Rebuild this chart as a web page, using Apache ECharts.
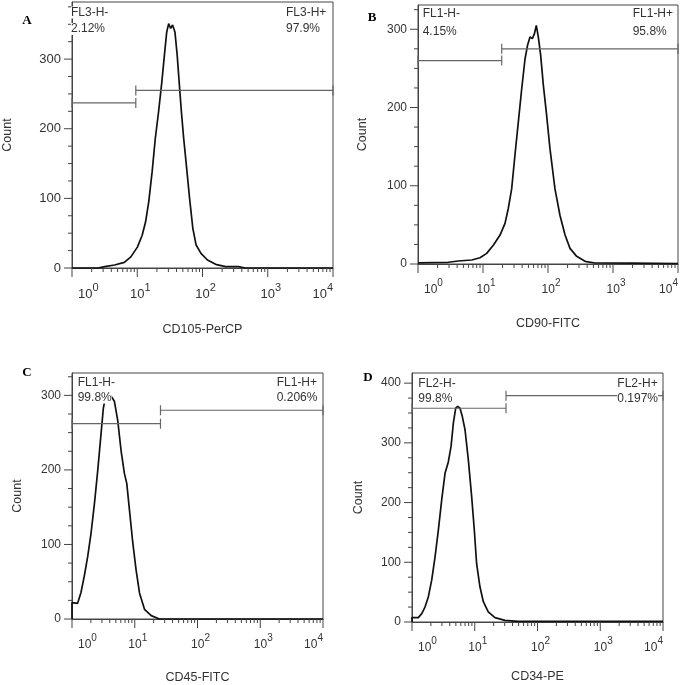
<!DOCTYPE html>
<html><head><meta charset="utf-8">
<script src="https://cdn.jsdelivr.net/npm/echarts@6/dist/echarts.min.js"></script>
<style>html,body{margin:0;padding:0;background:#fff}#c{width:685px;height:685px}</style>
</head><body><div id="c"></div>
<script>
// ---------- DATA ----------
const aX = [1, 2.5, 3.18, 4.49, 6.34, 7.98, 10.05, 11.9, 13.4, 15.0, 16.9, 18.9, 21.2, 23.8, 26.1, 28.3, 30.3, 32.5, 34.8, 37.8, 40.9, 43.9, 47.5, 51.5, 56.5, 63.4, 71.1, 79.8, 94.8, 119, 159, 225, 356, 449, 10000];
const aCount = [0, 0, 1.9, 4.3, 8.1, 16, 30, 47, 66, 95, 138, 186, 224, 267, 306, 339, 351, 344, 349, 339, 306, 267, 224, 186, 148, 100, 57, 33, 21, 11.5, 5.3, 1.9, 1.9, 0, 0];

const bX = [1, 2.92, 4.17, 6.70, 8.99, 11.4, 14.4, 18.3, 21.8, 24.5, 27.6, 31.0, 35.0, 39.4, 44.3, 48.6, 52.8, 57.4, 61.7, 66.1, 71.0, 77.1, 84.7, 95.3, 107, 128, 153, 183, 218, 276, 371, 525, 2000, 10000];
const bCount = [1.5, 2.2, 3.8, 5.1, 8, 13.6, 24, 37, 52, 71, 96, 139, 182, 224, 262, 280, 290, 288, 294, 305, 290, 267, 229, 190, 148, 96, 62, 37, 20, 9.8, 3.4, 1.3, 1, 0.5];

const cX = [1, 1, 1.23, 1.39, 1.57, 1.78, 2.01, 2.28, 2.57, 2.90, 3.16, 3.40, 3.98, 4.74, 5.36, 6.05, 6.85, 7.46, 8.24, 9.31, 10.5, 11.9, 14.3, 18.3, 24.8, 10000];
const cCount = [0, 22, 21, 35.5, 57.6, 84, 115, 155, 199, 248, 283, 297, 302, 292, 266, 226, 195, 182, 146, 102, 66, 35, 13, 4.5, 0, 0];

const dX = [1, 1, 1.26, 1.43, 1.61, 1.82, 2.06, 2.33, 2.63, 2.97, 3.36, 3.79, 4.19, 4.56, 4.97, 5.35, 5.82, 6.34, 7.0, 7.91, 8.93, 9.84, 10.7, 12.1, 13.7, 16.4, 21.0, 30.3, 49.4, 10000];
const dCount = [0, 7.4, 7.4, 14, 25, 42, 70, 109, 154, 204, 249, 268, 294, 333, 358, 361, 358, 344, 322, 271, 210, 154, 98, 59, 34, 17, 7.4, 2.8, 1, 1];

// gates: [fromX, toX, count]
const gatesA = [[1, 9.5, 237], [9.5, 10000, 255]];
const gatesB = [[1, 19.4, 260], [19.4, 10000, 275]];
const gatesC = [[1, 25.7, 262], [25.7, 10000, 280]];
const gatesD = [[1, 31.5, 358], [31.5, 10000, 379]];

const panelLetters = ['A', 'B', 'C', 'D'];
const xNames = ['CD105-PerCP', 'CD90-FITC', 'CD45-FITC', 'CD34-PE'];
const yName = 'Count';
const gateNames = [['FL3-H-', 'FL3-H+'], ['FL1-H-', 'FL1-H+'], ['FL1-H-', 'FL1-H+'], ['FL2-H-', 'FL2-H+']];
const gatePercents = [['2.12%', '97.9%'], ['4.15%', '95.8%'], ['99.8%', '0.206%'], ['99.8%', '0.197%']];
const yMaxes = [382, 331, 330, 417];
const xMajorTicks = [1, 10, 100, 1000, 10000];
const xMinorMultipliers = [2, 3, 4, 5, 6, 7, 8, 9];
const yLabelStep = 100;
const yTickStep = 25;

// ---------- LAYOUT ----------
const layout = [
  { left: 66, top: 2, width: 267, height: 266, yGap: 58, xGap: 55, font: 13, letter: [27, 21], lx: 71, rx: 286, r1: 12.5, r2: 29 },
  { left: 418, top: 5, width: 260, height: 259, yGap: 49, xGap: 53, font: 12, letter: [372, 18], lx: 422.7, rx: 632.7, r1: 14, r2: 32 },
  { left: 72, top: 373, width: 251, height: 249, yGap: 48, xGap: 52, font: 12, letter: [27, 373], lx: 77.7, rx: 276.7, r1: 382.5, r2: 397.5 },
  { left: 412, top: 373, width: 251, height: 249, yGap: 47, xGap: 48, font: 12, letter: [368, 378], lx: 418.3, rx: 617.3, r1: 383.5, r2: 399 }
];

const curvesX = [aX, bX, cX, dX];
const curvesY = [aCount, bCount, cCount, dCount];
const gates = [gatesA, gatesB, gatesC, gatesD];

const TXT = '#333';
const AX = '#444';
const SANS = '"Liberation Sans", Arial, sans-serif';

const grid = [], xAxis = [], yAxis = [], series = [], graphic = [];

layout.forEach((L, i) => {
  grid.push({ left: L.left, top: L.top, width: L.width, height: L.height, show: true, borderColor: AX, borderWidth: 1, backgroundColor: 'transparent' });
  xAxis.push({
    gridIndex: i, type: 'log', logBase: 10, min: 1, max: 10000,
    axisLine: { show: true, lineStyle: { color: AX, width: 1 } },
    axisTick: { show: false }, splitLine: { show: false }, minorTick: { show: false },
    axisLabel: {
      margin: 12, alignMinLabel: 'left', alignMaxLabel: 'right',
      formatter: v => '{b|10}{s|' + Math.round(Math.log10(v)) + '}',
      rich: {
        b: { fontSize: L.font, color: TXT, fontFamily: SANS, padding: [8, 0, 0, 6] },
        s: { fontSize: L.font - 2, color: TXT, fontFamily: SANS, padding: [0, 0, 6, 0] }
      }
    },
    name: xNames[i], nameLocation: 'middle', nameGap: L.xGap,
    nameTextStyle: { fontSize: 12.5, color: TXT, fontFamily: SANS }
  });
  yAxis.push({
    gridIndex: i, type: 'value', min: 0, max: yMaxes[i], interval: yLabelStep,
    axisLine: { show: true, lineStyle: { color: AX, width: 1 } },
    axisTick: { show: false }, splitLine: { show: false },
    axisLabel: { showMaxLabel: false, margin: 11, fontSize: L.font, color: TXT, fontFamily: SANS },
    name: yName, nameLocation: 'middle', nameGap: L.yGap,
    nameTextStyle: { fontSize: 12.5, color: TXT, fontFamily: SANS }
  });

  // curve
  series.push({
    type: 'line', xAxisIndex: i, yAxisIndex: i, showSymbol: false, symbol: 'none', clip: false,
    lineStyle: { color: '#111', width: 1.7 }, z: 3, silent: true,
    data: curvesX[i].map((x, k) => [x, curvesY[i][k]])
  });

  // gates
  series.push({
    type: 'custom', xAxisIndex: i, yAxisIndex: i, clip: false, silent: true, z: 4,
    encode: { x: [0, 1], y: 2 },
    data: gates[i],
    renderItem: (params, api) => {
      const p1 = api.coord([api.value(0), api.value(2)]);
      const p2 = api.coord([api.value(1), api.value(2)]);
      const st = { stroke: '#666', lineWidth: 1.2 };
      return {
        type: 'group', children: [
          { type: 'line', shape: { x1: p1[0], y1: p1[1], x2: p2[0], y2: p2[1] }, style: st },
          { type: 'line', shape: { x1: p1[0], y1: p1[1] - 5, x2: p1[0], y2: p1[1] + 5 }, style: st },
          { type: 'line', shape: { x1: p2[0], y1: p2[1] - 5, x2: p2[0], y2: p2[1] + 5 }, style: st }
        ]
      };
    }
  });

  // x ticks (major decades + log minor ticks)
  const xt = [];
  xMajorTicks.forEach(v => xt.push([v, 0, 9]));
  xMajorTicks.slice(0, -1).forEach(d => xMinorMultipliers.forEach(m => xt.push([d * m, 0, 4])));
  series.push({
    type: 'custom', xAxisIndex: i, yAxisIndex: i, clip: false, silent: true, z: 5,
    encode: { x: 0, y: 1 }, data: xt,
    renderItem: (params, api) => {
      const p = api.coord([api.value(0), 0]);
      return { type: 'line', shape: { x1: p[0], y1: p[1], x2: p[0], y2: p[1] + api.value(2) }, style: { stroke: AX, lineWidth: 1 } };
    }
  });

  // y ticks
  const yt = [];
  for (let v = 0; v < yMaxes[i]; v += yTickStep) yt.push([1, v, v % yLabelStep === 0 ? 8 : 4]);
  series.push({
    type: 'custom', xAxisIndex: i, yAxisIndex: i, clip: false, silent: true, z: 5,
    encode: { x: 0, y: 1 }, data: yt,
    renderItem: (params, api) => {
      const p = api.coord([1, api.value(1)]);
      return { type: 'line', shape: { x1: p[0] - api.value(2), y1: p[1], x2: p[0], y2: p[1] }, style: { stroke: AX, lineWidth: 1 } };
    }
  });

  // gate texts
  const tf = '12px ' + SANS;
  [[L.lx, L.r1, gateNames[i][0]], [L.lx, L.r2, gatePercents[i][0]], [L.rx, L.r1, gateNames[i][1]], [L.rx, L.r2, gatePercents[i][1]]].forEach(t => {
    graphic.push({ type: 'text', x: t[0], y: t[1], z: 100, silent: true,
      style: { text: t[2], font: tf, fill: TXT, verticalAlign: 'middle', align: 'left', backgroundColor: '#fff' } });
  });
  graphic.push({ type: 'text', x: L.letter[0], y: L.letter[1], z: 100, silent: true,
    style: { text: panelLetters[i], font: 'bold 13px "Liberation Serif", "Times New Roman", serif', fill: '#000', verticalAlign: 'middle', align: 'center' } });
});

const chart = echarts.init(document.getElementById('c'), null, { renderer: 'canvas' });
chart.setOption({ animation: false, backgroundColor: '#fff', grid, xAxis, yAxis, series, graphic });
</script>
</body></html>
